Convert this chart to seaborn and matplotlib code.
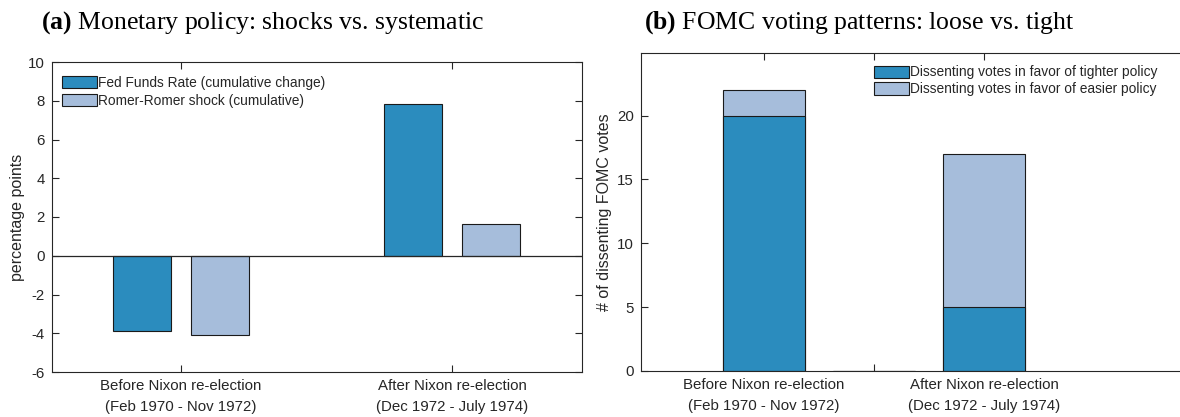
import matplotlib
matplotlib.use("Agg")
import matplotlib.pyplot as plt
import seaborn as sns
import pandas as pd

sns.set_theme(style="white")
plt.rcParams["font.family"] = ["Liberation Sans", "DejaVu Sans"]
plt.rcParams["axes.unicode_minus"] = False
plt.rcParams["mathtext.fontset"] = "custom"
plt.rcParams["mathtext.rm"] = "Liberation Serif"
plt.rcParams["mathtext.bf"] = "Liberation Serif:bold"

# Panel (a): cumulative changes, percentage points
periods = ["Before Nixon re-election\n(Feb 1970 - Nov 1972)",
           "After Nixon re-election\n(Dec 1972 - July 1974)"]
fed_funds = [-3.9, 7.85]
romer_shock = [-4.1, 1.65]
series_a = ["Fed Funds Rate (cumulative change)", "Romer-Romer shock (cumulative)"]

# Panel (b): dissenting FOMC votes (middle slot is an empty spacer category)
vote_periods = [periods[0], " ", periods[1]]
tighter_votes = [20, 0, 5]
easier_votes = [2, 0, 12]
series_b = ["Dissenting votes in favor of tighter policy",
            "Dissenting votes in favor of easier policy"]

dark = "#2B8CBE"
light = "#A6BDDB"
edge = "#1a1a1a"
spine_col = "#262626"
tick_fs = 10.8
leg_fs = 9.9

fig = plt.figure(figsize=(11.8, 4.17), dpi=100)
W, H = 1180, 417

def px_axes(l, t, r, b):
    return fig.add_axes([l / W, 1 - b / H, (r - l) / W, (b - t) / H])

def style_axes(ax):
    for s in ax.spines.values():
        s.set_color(spine_col)
        s.set_linewidth(0.8)
    ax.tick_params(direction="in", length=5, width=0.8, color=spine_col,
                   labelsize=tick_fs, labelcolor="#262626",
                   top=True, right=True, bottom=True, left=True, pad=5)

# ---- Panel (a)
axa = px_axes(52, 62, 582, 372)
df_a = pd.DataFrame({
    "period": periods * 2,
    "value": fed_funds + romer_shock,
    "series": [series_a[0]] * 2 + [series_a[1]] * 2,
})
sns.barplot(data=df_a, x="period", y="value", hue="series", order=periods,
            hue_order=series_a, palette=[dark, light], saturation=1,
            width=0.57, gap=0.25, edgecolor=edge, linewidth=0.8, ax=axa)
axa.axhline(0, color=spine_col, lw=0.9, zorder=3)
axa.set_ylim(-6, 10)
axa.set_yticks(range(-6, 11, 2))
axa.set_xlim(-0.476, 1.48)
axa.set_xlabel("")
axa.set_ylabel("percentage points", fontsize=11.5, color="#262626", labelpad=2)
style_axes(axa)
for lbl in axa.get_xticklabels():
    lbl.set_linespacing(1.6)
leg = axa.legend(loc="upper left", bbox_to_anchor=(-0.004, 0.995), frameon=False,
                 fontsize=leg_fs, handlelength=2.5, handleheight=1.0,
                 handletextpad=0.12, labelspacing=0.3, borderaxespad=0.5)
for h in leg.legend_handles:
    h.set_edgecolor(edge)
    h.set_linewidth(0.8)

# ---- Panel (b)
axb = px_axes(641, 53, 1180, 371)
df_b = pd.DataFrame({
    "period": vote_periods,
    "total": [t + e for t, e in zip(tighter_votes, easier_votes)],
    "tighter": tighter_votes,
})
sns.barplot(data=df_b, x="period", y="total", order=vote_periods, color=light,
            saturation=1, width=0.75, edgecolor=edge, linewidth=0.8, ax=axb,
            label=series_b[1])
sns.barplot(data=df_b, x="period", y="tighter", order=vote_periods, color=dark,
            saturation=1, width=0.75, edgecolor=edge, linewidth=0.8, ax=axb,
            label=series_b[0])
axb.set_ylim(0, 24.9)
axb.set_yticks(range(0, 21, 5))
axb.set_xlim(-1.118, 3.78)
axb.set_xlabel("")
axb.set_ylabel("# of dissenting FOMC votes", fontsize=11.5, color="#262626", labelpad=4)
style_axes(axb)
axb.spines["right"].set_visible(False)
axb.tick_params(right=False)
for lbl in axb.get_xticklabels():
    lbl.set_linespacing(1.6)
handles, labels = axb.get_legend_handles_labels()
order = [labels.index(series_b[0]), labels.index(series_b[1])]
legb = axb.legend([handles[i] for i in order], [labels[i] for i in order],
                  loc="upper left", bbox_to_anchor=(0.41, 1.0), frameon=False,
                  fontsize=leg_fs, handlelength=2.5, handleheight=1.0,
                  handletextpad=0.12, labelspacing=0.2, borderaxespad=0.5)
for h in legb.legend_handles:
    h.set_edgecolor(edge)
    h.set_linewidth(0.8)

# ---- Panel titles
for xc, tag, text in [(263, "(a)", "Monetary policy: shocks vs. systematic"),
                      (859, "(b)", "FOMC voting patterns: loose vs. tight")]:
    fig.text(xc / W, 1 - 23 / H, f"$\\mathbf{{{tag}}}$ {text}", ha="center",
             va="center", fontsize=18.5, family=["Liberation Serif", "DejaVu Serif"],
             color="black")

fig.savefig("out.png", dpi=100)
